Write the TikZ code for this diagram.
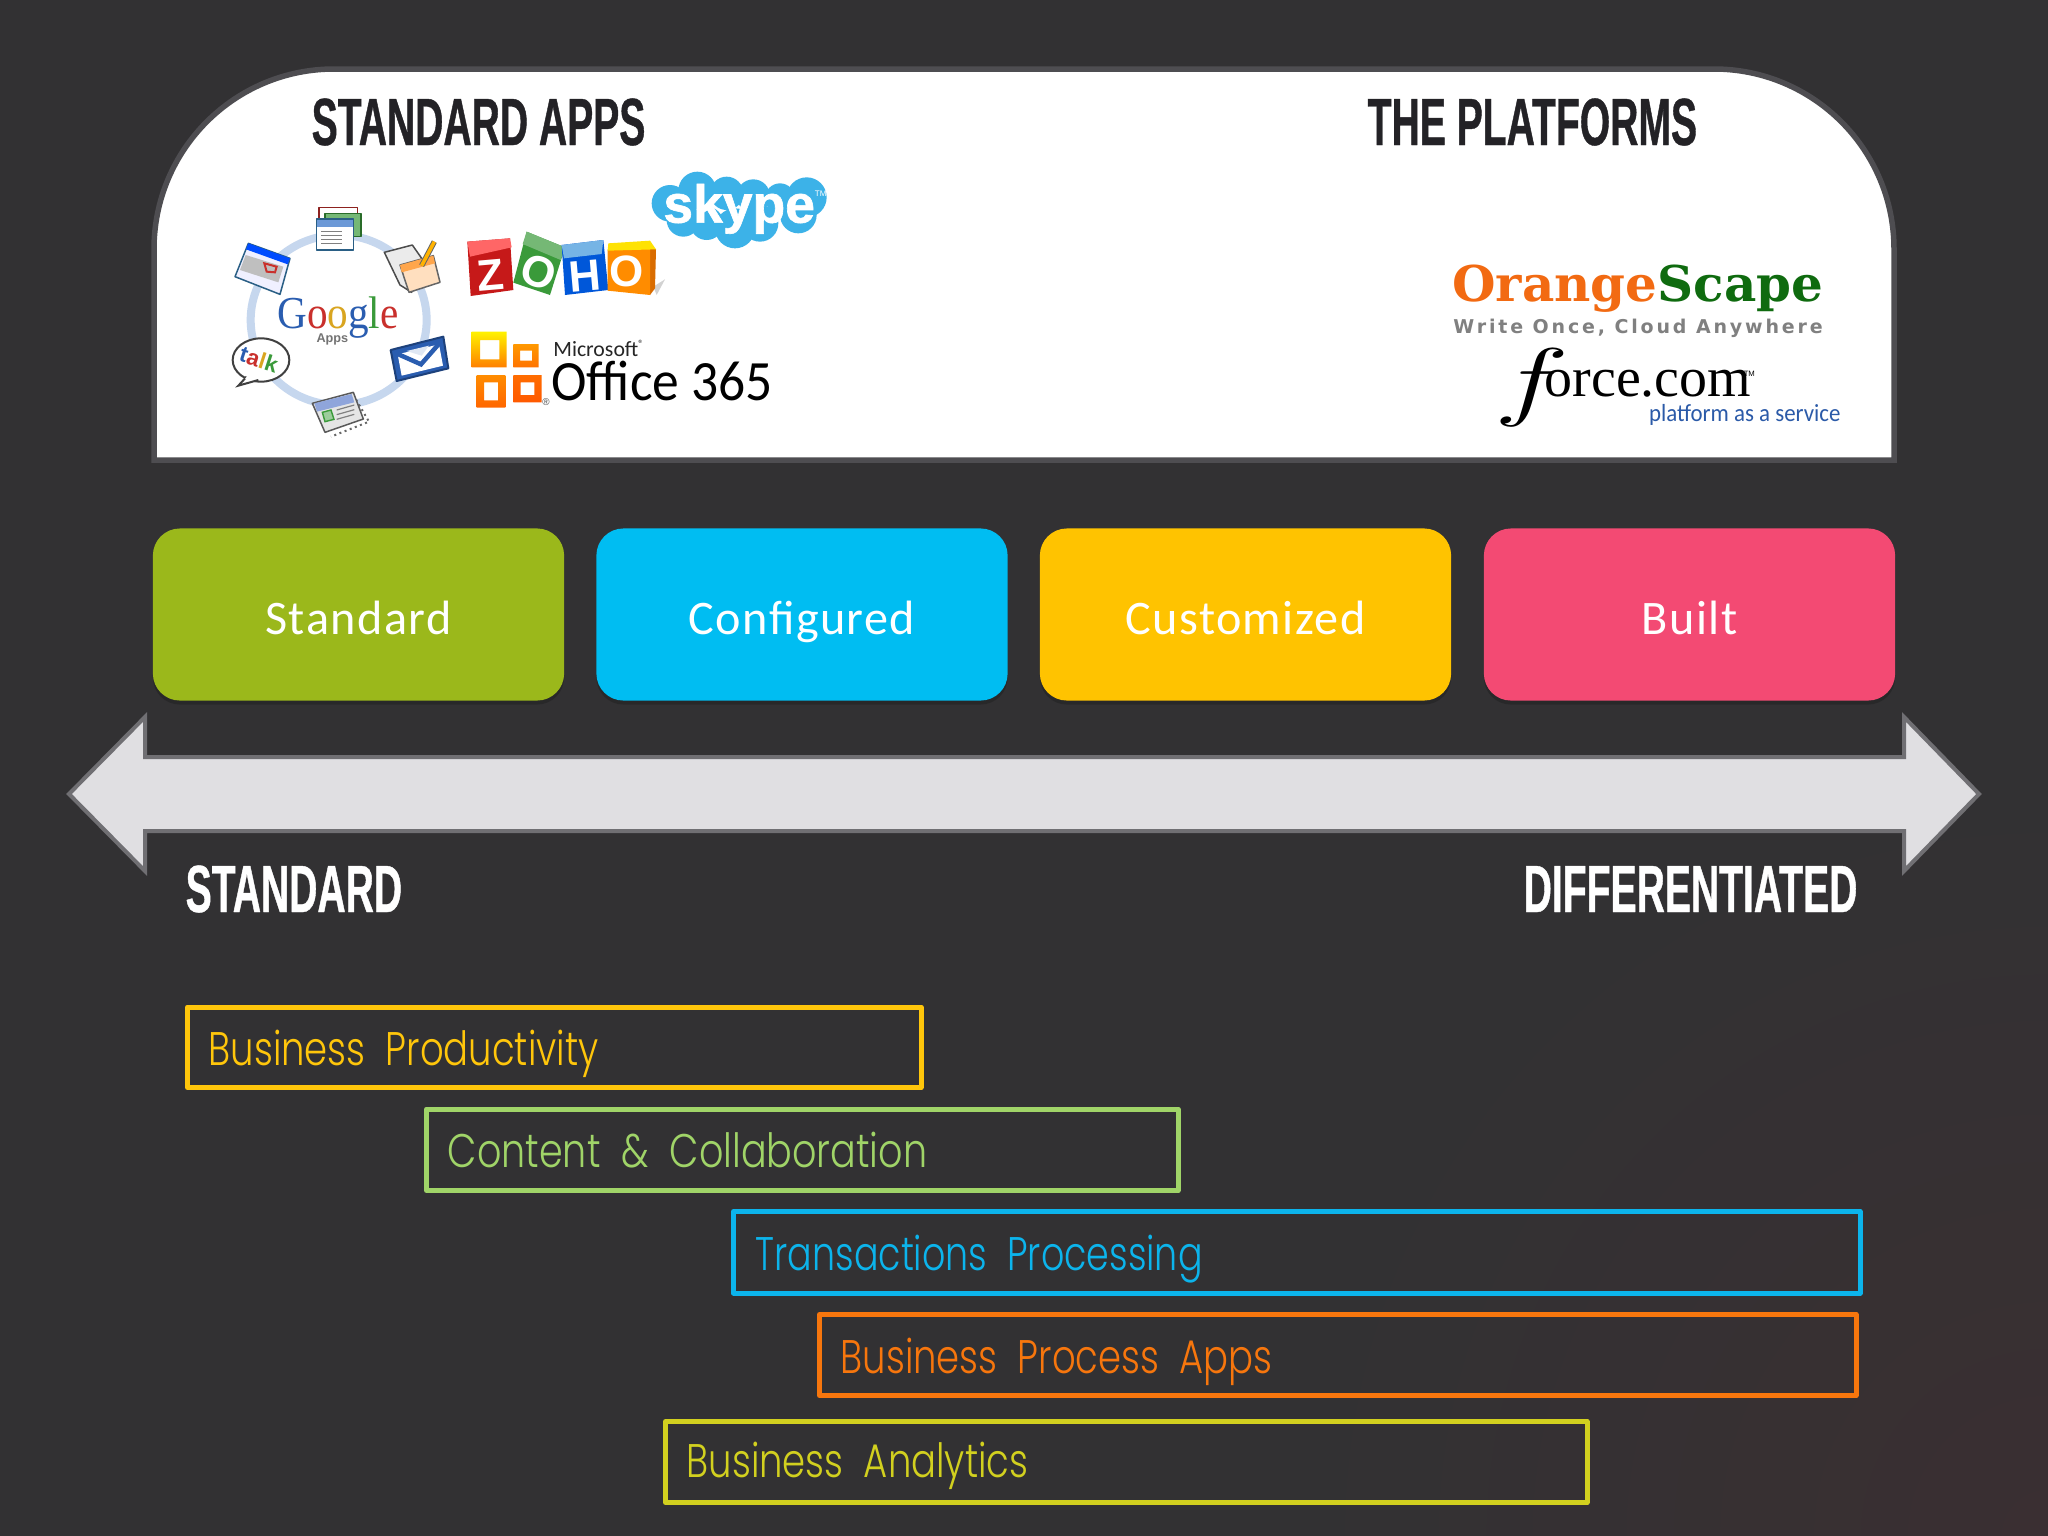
\documentclass[tikz,border=0pt]{standalone}
\usepackage{fontspec}
\usetikzlibrary{shadows}
\setmainfont{Liberation Sans}
\newfontfamily\headfont[FakeStretch=.585,FakeBold=.6]{Liberation Sans}
\newfontfamily\cardfont[LetterSpace=3]{Carlito}
\newfontfamily\barfont[FakeStretch=.785,WordSpace=2]{Poppins Light}
\newfontfamily\officefont{Carlito}
\newfontfamily\bigofficefont[FakeStretch=.94]{Carlito}
\newfontfamily\orangefont[FakeStretch=1.015]{DejaVu Serif}
\newfontfamily\tagfont[LetterSpace=15]{DejaVu Sans}
\newfontfamily\forcefont{Liberation Serif}
\newfontfamily\googlefont[FakeStretch=.9]{Liberation Serif}
\newfontfamily\servicefont[FakeStretch=.93]{Carlito}
\newfontfamily\skypefont[FakeBold=1.2]{Liberation Sans}
\definecolor{slidebg}{HTML}{323133}
\definecolor{slidered}{HTML}{3A2F32}
\definecolor{panelline}{HTML}{4E4D51}
\definecolor{headink}{HTML}{232226}
\definecolor{arrowfill}{HTML}{E0DFE2}
\definecolor{arrowline}{HTML}{706F73}
\definecolor{cardgreen}{HTML}{9BB81B}
\definecolor{cardblue}{HTML}{00BDF2}
\definecolor{cardyellow}{HTML}{FFC300}
\definecolor{cardpink}{HTML}{F34A73}
\definecolor{baryellow}{HTML}{FFC60B}
\definecolor{bargreen}{HTML}{A0D468}
\definecolor{barblue}{HTML}{0CB4EC}
\definecolor{barorange}{HTML}{F7760D}
\definecolor{barolive}{HTML}{D2D01F}
\definecolor{ringblue}{HTML}{C6D7EE}
\definecolor{gblue}{HTML}{2A5DB0}
\definecolor{gred}{HTML}{C9302C}
\definecolor{ggold}{HTML}{D9A520}
\definecolor{ggreen}{HTML}{3A9A3A}
\definecolor{iconline}{HTML}{2A5F85}
\definecolor{skypeblue}{HTML}{3CB2E8}
\definecolor{orangeink}{HTML}{F26A12}
\definecolor{scapeink}{HTML}{0F6B0F}
\definecolor{serviceink}{HTML}{2B5AA8}
\tikzset{
  headtext/.style={font=\headfont\bfseries\fontsize{19}{19}\selectfont,anchor=base west,inner sep=0pt},
  cardbox/.style={fill=#1,rounded corners=.27cm,minimum width=4.11cm,minimum height=1.72cm,
    font=\cardfont\fontsize{13.7}{13.7}\selectfont,text=white,text height=.39cm,text depth=0cm,
    drop shadow={shadow xshift=0cm,shadow yshift=-.04cm,fill=black,opacity=.18}},
  barframe/.style={draw=#1,line width=.05cm,line join=round},
  bartext/.style={text=#1,font=\barfont\fontsize{13.4}{13.4}\selectfont,anchor=base west,inner sep=0pt},
  ring/.style={draw=ringblue,line width=.08cm},
  icon/.style={draw=iconline,line width=.015cm,line join=round},
  zoholetter/.style={text=white,font=\bfseries\fontsize{12.5}{12.5}\selectfont,inner sep=0pt},
}
\begin{document}
\begin{tikzpicture}[x=.01cm,y=-.01cm]
\useasboundingbox (0,0) rectangle (2048,1536);
\fill [slidebg] (0,0) rectangle (2048,1536);
\begin{scope}
\clip (0,0) rectangle (2048,1536);
\shade [inner color=slidered,outer color=slidebg] (2048,1536) circle (750);
\end{scope}

% Top panel
\draw [fill=white,draw=panelline,line width=.055cm] (154,460) -- (154,300) [rounded corners=1.8cm] -- (154,69) -- (1894,69) [sharp corners] -- (1894,460) -- cycle;
\node [headtext,text=headink] (appshead) at (311,145) {STANDARD APPS};
\node [headtext,text=headink] (platformhead) at (1367,145) {THE PLATFORMS};

% Google ring and its icons
\begin{scope}[shift={(225,195)},scale=1/3]
\draw [ring] (341,375) ellipse (264 and 255);
% docs
\draw [icon,draw=gred!70!black,fill=white] (282,38) rectangle (398,100);
\draw [icon,draw=ggreen!70!black,fill=ggreen!70] (300,55) rectangle (408,125);
\draw [icon,fill=white] (275,72) rectangle (385,165);
\fill [cyan!50!blue!60] (277,74) rectangle (383,95);
\foreach \i in {110,122,134,146} {\draw [gray,line width=.01cm] (288,\i) -- (350,\i);}
% sheet and pencil
\draw [icon,draw=black!70,fill=black!8] (478,172) -- (562,150) -- (590,190) -- (560,292) -- (525,270) -- cycle;
\draw [icon,draw=black!60,fill=orange!25] (525,210) -- (625,182) -- (645,262) -- (552,292) -- cycle;
\fill [orange!70] (525,210) -- (625,182) -- (630,205) -- (530,232) -- cycle;
\draw [line width=.055cm,draw=black!60] (590,212) -- (628,140);
\draw [line width=.035cm,draw=orange!60!yellow] (590,212) -- (628,140);
% calendar
\draw [icon,fill=blue!6] (30,245) -- (70,145) -- (195,190) -- (165,298) -- cycle;
\fill [blue!70!cyan] (70,145) -- (195,190) -- (188,208) -- (63,163) -- cycle;
\fill [black!25] (62,180) -- (175,215) -- (160,262) -- (45,225) -- cycle;
\draw [gred,line width=.02cm] (118,205) -- (155,215) -- (150,232) -- (125,230) -- cycle;
% talk bubble
\draw [draw=black!75,fill=white,line width=.02cm] (108,495) ellipse (85 and 65);
\draw [draw=black!75,fill=white,line width=.02cm] (65,545) -- (40,572) -- (100,555);
\fill [white] (70,538) -- (60,552) -- (95,548) -- cycle;
\node [inner sep=0pt,rotate=-18,font=\bfseries\fontsize{6.4}{6.4}\selectfont] (talklabel) at (102,493) {\textcolor{gblue}{t}\textcolor{gred}{a}\textcolor{ggold}{l}\textcolor{ggreen}{k}};
% mail
\draw [icon,draw=gblue!70!black,fill=gblue,line width=.02cm] (497,465) -- (655,425) -- (670,520) -- (515,558) -- cycle;
\fill [white] (518,478) -- (642,448) -- (654,512) -- (530,542) -- cycle;
\draw [draw=gblue,line width=.045cm,line join=miter] (516,476) -- (588,508) -- (644,444);
\fill [white!85!gblue] (545,468) -- (612,452) -- (590,482) -- cycle;
% bottom card
\draw [black!60,densely dotted,line width=.02cm] (385,600) -- (432,680) -- (318,725);
\draw [icon,draw=black!65,fill=black!10] (262,625) -- (385,592) -- (415,672) -- (300,712) -- cycle;
\fill [cyan!40!blue!45] (268,625) -- (380,597) -- (388,622) -- (276,650) -- cycle;
\draw [fill=ggreen!50,draw=ggreen] (292,652) -- (318,645) -- (327,673) -- (300,680) -- cycle;
\foreach \i in {0,14,28} {\draw [black!50,line width=.012cm] (335,645+\i) -- (388,630+\i);}
% word mark
\node [font=\googlefont\fontsize{13}{13}\selectfont,anchor=base west,inner sep=0pt] (googlelabel) at (155,401) {\textcolor{gblue}{G}\textcolor{gred}{o}\textcolor{ggold}{o}\textcolor{gblue}{g}\textcolor{ggreen}{l}\textcolor{gred}{e}};
\node [text=black!55,font=\bfseries\fontsize{3.6}{3.6}\selectfont,inner sep=0pt] (appslabel) at (322,432) {Apps};
\end{scope}

% Skype, Zoho and Office logos
\begin{scope}[shift={(460,160)},scale=1/3]
\foreach \cx/\cy/\r in {630/130/55,712/92/57,800/100/50,880/108/50,960/115/45,1040/112/60,1015/165/55,900/190/55,825/205/60,740/190/50,670/180/50} {
  \fill [skypeblue] (\cx,\cy) circle (\r);
}
\node [text=white,font=\skypefont\bfseries\fontsize{15.2}{15.2}\selectfont,anchor=base west,inner sep=0pt] (skypelabel) at (608,188) {skype};
\node [text=white,font=\fontsize{2.3}{2.3}\selectfont,inner sep=0pt] (skypetm) at (1082,100) {TM};
% Z block
\fill [red!75!black!90] (22,245) -- (150,235) -- (160,390) -- (32,408) -- cycle;
\fill [red!60!white] (22,245) -- (150,235) -- (155,262) -- (30,290) -- cycle;
\node [zoholetter,rotate=5] (zoholetterz) at (92,345) {Z};
% O block
\fill [ggreen] (200,215) -- (315,262) -- (270,405) -- (160,368) -- cycle;
\fill [ggreen!70!white] (200,215) -- (315,262) -- (302,300) -- (188,252) -- cycle;
\node [zoholetter,rotate=-20] (zoholettero) at (235,335) {O};
% H block
\fill [blue!60!cyan!85!black] (305,255) -- (430,240) -- (445,390) -- (315,405) -- cycle;
\fill [cyan!70!blue!55] (305,255) -- (430,240) -- (425,282) -- (312,295) -- cycle;
\node [zoholetter,rotate=5] (zoholetterh) at (375,348) {H};
% second O block
\fill [gray!35] (580,380) -- (615,358) -- (590,405) -- cycle;
\fill [orange!85!black] (570,262) -- (588,268) -- (585,385) -- (570,405) -- cycle;
\fill [orange!90!yellow] (443,268) -- (570,262) -- (570,405) -- (443,392) -- cycle;
\fill [yellow!85!orange] (445,250) -- (570,242) -- (588,268) -- (443,272) -- cycle;
\node [zoholetter] (zoholetterotwo) at (500,335) {O};
% Office squares
\shade [top color=yellow!90!orange,bottom color=orange,even odd rule] (35,515) rectangle (140,622) (60,540) rectangle (118,598);
\shade [top color=orange!80!yellow,bottom color=orange!90!red,even odd rule] (160,552) rectangle (236,622) (180,572) rectangle (216,602);
\shade [top color=orange!90!yellow,bottom color=orange!80!red,even odd rule] (50,645) rectangle (136,743) (72,667) rectangle (114,721);
\shade [top color=orange!85!red,bottom color=orange!70!red,even odd rule] (160,645) rectangle (245,727) (182,667) rectangle (223,705);
\node [font=\fontsize{2.8}{2.8}\selectfont,text=black!70,inner sep=0pt] (officereg) at (258,726) {®};
\node [font=\officefont\fontsize{6.2}{6.2}\selectfont,text=black!85,anchor=base west,inner sep=0pt] (microsoftlabel) at (278,590) {Microsoft\textsuperscript{\fontsize{3}{3}\selectfont ®}};
\node [font=\bigofficefont\fontsize{16.2}{16.2}\selectfont,anchor=base west,inner sep=0pt] (officelabel) at (272,722) {Office 365};
\end{scope}

% OrangeScape and force.com logos
\begin{scope}[shift={(1430,250)},scale=1/3]
\node [font=\orangefont\bfseries\fontsize{14}{14}\selectfont,anchor=base west,inner sep=0pt] (orangelabel) at (65,155) {\textcolor{orangeink}{Orange}\textcolor{scapeink}{Scape}};
\node [font=\tagfont\bfseries\fontsize{5.4}{5.4}\selectfont,text=black!50,anchor=base west,inner sep=0pt] (orangetag) at (68,250) {Write Once, Cloud Anywhere};
\node [font=\fontsize{25}{25}\selectfont,anchor=center,inner sep=0pt] (forcef) at (305,414) {\scalebox{1.45}[1]{$f$}};
\node [font=\forcefont\fontsize{15.9}{15.9}\selectfont,anchor=base west,inner sep=0pt] (forcelabel) at (342,440) {orce.com};
\node [font=\fontsize{2.2}{2.2}\selectfont,inner sep=0pt] (forcetm) at (958,372) {TM};
\node [font=\servicefont\fontsize{7}{7}\selectfont,text=serviceink,anchor=base west,inner sep=0pt] (servicelabel) at (655,515) {platform as a service};
\end{scope}

% Four cards
\node [cardbox=cardgreen] (standardcard) at (358.5,614.5) {Standard};
\node [cardbox=cardblue] (configuredcard) at (802,614.5) {Configured};
\node [cardbox=cardyellow] (customizedcard) at (1245.5,614.5) {Customized};
\node [cardbox=cardpink] (builtcard) at (1689.5,614.5) {Built};

% Double arrow
\draw [fill=arrowfill,draw=arrowline,line width=.04cm,line join=miter] (69,794) -- (145,717) -- (145,757) -- (1904,757) -- (1904,717) -- (1979,794) -- (1904,871) -- (1904,831) -- (145,831) -- (145,871) -- cycle;
\node [headtext,text=white] (standardlabel) at (185,912) {STANDARD};
\node [headtext,text=white] (differentiatedlabel) at (1523,912) {DIFFERENTIATED};

% Bars
\draw [barframe=baryellow] (187.5,1007) rectangle (921,1087.5);
\node [bartext=baryellow] (productivitylabel) at (208,1065) {Business Productivity};

\draw [barframe=bargreen] (426.5,1109) rectangle (1178,1190.5);
\node [bartext=bargreen] (contentlabel) at (447,1167) {\scalebox{1.03}[1]{Content \& Collaboration}};

\draw [barframe=barblue] (733.5,1211.5) rectangle (1860,1293);
\node [bartext=barblue] (transactionslabel) at (755,1270) {\scalebox{.985}[1]{Transactions Processing}};

\draw [barframe=barorange] (819.5,1314.5) rectangle (1856,1395.5);
\node [bartext=barorange] (processlabel) at (840,1373) {Business Process Apps};

\draw [barframe=barolive] (665.5,1421.5) rectangle (1587,1502.5);
\node [bartext=barolive] (analyticslabel) at (686,1477) {Business Analytics};
\end{tikzpicture}
\end{document}
